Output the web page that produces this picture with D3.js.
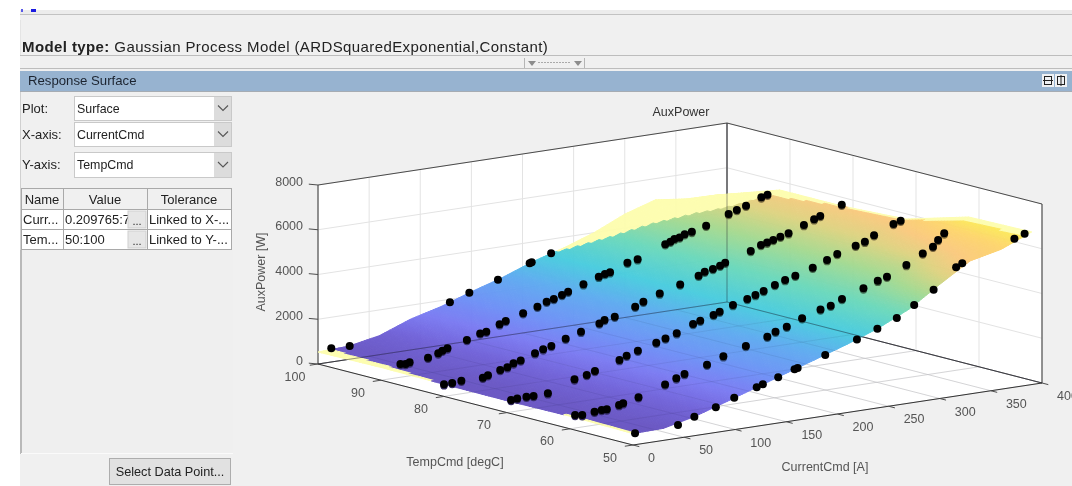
<!DOCTYPE html>
<html>
<head>
<meta charset="UTF-8">
<title>Response Surface: AuxPower</title>
<script src="https://cdn.jsdelivr.net/npm/d3@7"></script>
<style>
  body { margin: 0; background: #fff; }
  svg { display: block; filter: blur(0.35px); }
  text { font-family: "Liberation Sans", Arial, sans-serif; }
</style>
</head>
<body>
<script>
// axis ticks
var currentTicks = [0, 50, 100, 150, 200, 250, 300, 350, 400];
var tempTicks = [50, 60, 70, 80, 90, 100];
var powerTicks = [0, 2000, 4000, 6000, 8000];

// surface: one row per temperature, one value per current
var gridCurrent = [0, 30, 60, 90, 120, 150, 180, 210, 240, 270, 300, 330, 360, 390];
var gridTemp = [50, 60, 70, 80, 90, 100];
var gridPower = [
  [510, 540, 850, 1280, 1725, 2170, 2610, 3060, 3560, 4200, 5100, 5950, 6250, 6820],
  [560, 610, 870, 1290, 1750, 2200, 2600, 3060, 3570, 4030, 4510, 5060, 5900, 6765],
  [530, 575, 940, 1320, 1750, 2160, 2660, 3090, 3530, 4000, 4420, 4950, 5430, 5950],
  [540, 575, 870, 1320, 1770, 2220, 2620, 3120, 3530, 3970, 4420, 4870, 5380, 5800],
  [570, 610, 900, 1290, 1770, 2190, 2640, 3100, 3560, 4030, 4470, 4900, 5370, 5800],
  [535, 590, 850, 1370, 1730, 2190, 2610, 3120, 3520, 4000, 4620, 5050, 4880, 4850]
];

// measured points, [current, power], one list per temperature
var pointsT50 = [[2,510],[44,590],[60,850],[81,1123],[99,1430],[121,1740],[127,1833],[142,2042],[158,2293],[161,2325],[188,2720],[219,3200],[239,3543],[258,3890],[275,4350],[294,4900],[316,5755],[322,5890],[373,6637],[383,6790]];
var pointsT60 = [[5,583],[12,530],[24,600],[31,625],[36,620],[48,730],[52,780],[67,945],[93,1335],[104,1535],[112,1670],[134,1935],[150,2200],[172,2510],[193,2780],[201,2945],[212,3095],[227,3370],[245,3640],[255,3735],[266,3960],[287,4290],[301,4530],[310,4650],[329,5040],[345,5450],[355,5680],[360,5945],[366,6200]];
var pointsT70 = [[4,536],[10,566],[19,577],[26,563],[40,585],[66,1028],[78,1140],[86,1265],[110,1586],[117,1733],[128,1880],[146,2110],[155,2240],[166,2395],[182,2700],[189,2795],[202,2965],[208,3070],[221,3275],[235,3450],[243,3570],[251,3696],[262,3888],[272,4040],[282,4165],[299,4405],[313,4650],[323,4850],[341,5095],[350,5210],[359,5440],[378,5810],[385,5910]];
var pointsT80 = [[0,540],[8,545],[17,581],[38,572],[43,648],[55,800],[62,870],[68,1005],[75,1090],[89,1310],[97,1430],[105,1525],[119,1755],[134,1960],[152,2210],[157,2330],[167,2405],[187,2715],[195,2880],[211,3135],[231,3405],[249,3670],[255,3805],[263,3875],[270,3970],[275,4065],[300,4420],[310,4620],[316,4685],[322,4760],[329,4860],[337,4955],[352,5220],[362,5408],[368,5515],[389,5870]];
var pointsT90 = [[19,595],[24,558],[28,603],[46,688],[56,813],[60,903],[65,974],[84,1215],[97,1420],[103,1457],[116,1694],[122,1800],[139,2030],[153,2225],[162,2385],[169,2460],[177,2585],[183,2685],[198,2915],[213,3145],[219,3230],[224,3270],[241,3580],[251,3665],[278,4150],[283,4230],[287,4320],[292,4360],[297,4465],[304,4525],[318,4700],[340,5075],[348,5200],[357,5325],[372,5595],[378,5670]];
var pointsT100 = [[13,612],[31,585],[129,1864],[148,2163],[176,2547],[207,3070],[209,3097],[228,3370]];
var pointRows = [[50, pointsT50], [60, pointsT60], [70, pointsT70], [80, pointsT80], [90, pointsT90], [100, pointsT100]];

// widget text
var dropdownLabels = ["Plot:", "X-axis:", "Y-axis:"];
var dropdownValues = ["Surface", "CurrentCmd", "TempCmd"];
var tableHeader = ["Name", "Value", "Tolerance"];
var tableRows = [["Curr...", "0.209765:7", "Linked to X-..."], ["Tem...", "50:100", "Linked to Y-..."]];

var w = 1072, h = 486;
var svg = d3.select("body").append("svg").attr("width", w).attr("height", h);

function rect(x, y, width, height, fill, stroke) {
  return svg.append("rect").attr("x", x).attr("y", y).attr("width", width).attr("height", height)
    .attr("fill", fill).attr("stroke", stroke || "none");
}
function hline(y, x1, x2, col) {
  svg.append("line").attr("x1", x1).attr("x2", x2).attr("y1", y).attr("y2", y).attr("stroke", col);
}
function label(x, y, str, size, col) {
  return svg.append("text").attr("x", x).attr("y", y).text(str).attr("font-size", size).attr("fill", col || "#222");
}

// ---- window chrome ----
rect(20, 10, w - 20, h - 10, "#f0f0f0");
rect(20, 10, w - 20, 4, "#ececec");
hline(14.5, 20, w, "#c2c2c2");
hline(55.5, 20, w, "#bdbdbd");
hline(68.5, 20, w, "#bdbdbd");
rect(20, 20, 1, 35, "#e4e4e4");
rect(21, 9, 2, 3, "#5a5ae8");
rect(31, 9, 5, 3, "#1a1ae0");

var modelLine = label(22, 52, "", 15, "#222").attr("letter-spacing", 0.4);
modelLine.append("tspan").attr("font-weight", "bold").text("Model type:");
modelLine.append("tspan").text(" Gaussian Process Model (ARDSquaredExponential,Constant)");

// splitter grip
svg.append("line").attr("x1", 524.5).attr("x2", 524.5).attr("y1", 58).attr("y2", 68).attr("stroke", "#b5b5b5");
svg.append("line").attr("x1", 584.5).attr("x2", 584.5).attr("y1", 58).attr("y2", 68).attr("stroke", "#b5b5b5");
[[528, 536], [574, 582]].forEach(function(g) {
  svg.append("path").attr("d", "M" + g[0] + ",61H" + g[1] + "L" + (g[0] + g[1]) / 2 + ",66Z").attr("fill", "#8c8c8c");
});
svg.append("line").attr("x1", 538).attr("x2", 571).attr("y1", 62.5).attr("y2", 62.5)
  .attr("stroke", "#aaa").attr("stroke-dasharray", "2 1");

// header bar
rect(20, 71, w - 20, 21, "#97b3d0");
hline(91.5, 20, w, "#a6acb3");
label(28, 85, "Response Surface", 13.2, "#1c2430");
[1042, 1055].forEach(function(x, i) {
  rect(x, 74, 12, 13, "#eef0f3");
  svg.append("rect").attr("x", x + 2.5).attr("y", 76.5).attr("width", 7).attr("height", 8)
    .attr("fill", "none").attr("stroke", "#222");
  if (i == 0) hline(80.5, x + 1, x + 11, "#222");
  else svg.append("line").attr("x1", x + 6).attr("x2", x + 6).attr("y1", 75).attr("y2", 86).attr("stroke", "#222");
});

// ---- left controls ----
rect(20, 92, 1, 158, "#d0d0d0");
rect(20, 250, 2, 204, "#b9b9b9");
rect(22, 250, 211, 203, "#efefef");
rect(21, 453, 212, 1, "#fafafa");
[[96, 24], [122, 24], [152, 25]].forEach(function(b, i) {
  rect(74.5, b[0] + .5, 157, b[1], "#fff", "#c9c9c9");
  rect(214, b[0] + 1, 17, b[1] - 1, "#dcdcdc");
  var cy = b[0] + b[1] / 2 + .5;
  svg.append("path").attr("d", "M218," + (cy - 3) + "L223," + (cy + 2) + "L228," + (cy - 3))
    .attr("fill", "none").attr("stroke", "#555").attr("stroke-width", 1.1);
  label(77, cy + 4, dropdownValues[i], 12.4);
  label(22, cy + 4, dropdownLabels[i], 13);
});

var colEdges = [21, 63, 147, 231];
var rowEdges = [188, 209, 229, 249];
tableHeader.forEach(function(t, i) {
  rect(colEdges[i] + .5, rowEdges[0] + .5, colEdges[i + 1] - colEdges[i], 21, "#f0f0f0", "#a9a9a9");
  label((colEdges[i] + colEdges[i + 1]) / 2, 204, t, 13).attr("text-anchor", "middle");
});
tableRows.forEach(function(r, j) {
  r.forEach(function(t, i) {
    rect(colEdges[i] + .5, rowEdges[j + 1] + .5, colEdges[i + 1] - colEdges[i], 20, "#fff", "#a9a9a9");
    label(colEdges[i] + 2, rowEdges[j + 1] + 15, t, 13);
  });
  rect(128, rowEdges[j + 1] + 2, 18, 17, "#e6e6e6", "#cfcfcf");
  label(137, rowEdges[j + 1] + 16, "...", 11).attr("text-anchor", "middle");
});

rect(109.5, 458.5, 121, 26, "#e1e1e1", "#adadad");
label(170, 476, "Select Data Point...", 12.7).attr("text-anchor", "middle");

// ---- 3D axes: each data axis moves the point along its own screen direction ----
var curX = d3.scaleLinear().domain([0, 400]).range([0, 409]);
var curY = d3.scaleLinear().domain([0, 400]).range([0, -62]);
var tempX = d3.scaleLinear().domain([50, 100]).range([0, -315]);
var tempY = d3.scaleLinear().domain([50, 100]).range([0, -81]);
var powerY = d3.scaleLinear().domain([0, 8000]).range([0, -179]);
var frontX = 633, frontY = 445;

function project(c, t, z) {
  return [frontX + curX(c) + tempX(t), frontY + curY(c) + tempY(t) + powerY(z)];
}
var line3d = d3.line();

function seg(g, a, b, col, sw) {
  return g.append("path").attr("d", line3d([project.apply(null, a), project.apply(null, b)]))
    .attr("fill", "none").attr("stroke", col).attr("stroke-width", sw || 1);
}

var box = svg.append("g");
// white floor and back walls
[
  [[0, 100, 0], [400, 100, 0], [400, 50, 0], [0, 50, 0]],
  [[0, 100, 0], [400, 100, 0], [400, 100, 8000], [0, 100, 8000]],
  [[400, 100, 0], [400, 50, 0], [400, 50, 8000], [400, 100, 8000]]
].forEach(function(face) {
  box.append("path").attr("d", line3d(face.map(function(p) { return project.apply(null, p); })) + "Z").attr("fill", "#fff");
});

var gridCol = "#e3e3e3";
currentTicks.forEach(function(c) {
  seg(box, [c, 50, 0], [c, 100, 0], gridCol);
  seg(box, [c, 100, 0], [c, 100, 8000], gridCol);
});
tempTicks.forEach(function(t) {
  seg(box, [0, t, 0], [400, t, 0], gridCol);
  seg(box, [400, t, 0], [400, t, 8000], gridCol);
});
powerTicks.forEach(function(z) {
  seg(box, [0, 100, z], [400, 100, z], gridCol);
  seg(box, [400, 100, z], [400, 50, z], gridCol);
});

var boxCol = "#4a4a4a";
seg(box, [0, 100, 0], [400, 100, 0], boxCol);
seg(box, [400, 100, 0], [400, 50, 0], boxCol);
seg(box, [0, 100, 0], [0, 100, 8000], "#333");
seg(box, [400, 100, 0], [400, 100, 8000], "#333");
seg(box, [400, 50, 0], [400, 50, 8000], "#333");
seg(box, [0, 100, 8000], [400, 100, 8000], boxCol);
seg(box, [400, 100, 8000], [400, 50, 8000], boxCol);

// ---- surface, shaded through the table above ----
var colorOf = d3.scaleLinear()
  .domain([500, 1000, 1500, 2000, 2700, 3300, 4000, 4700, 5300, 5800, 6300, 6800])
  .range(["#6552c0", "#6e5fd8", "#7878f2", "#6c8ef6", "#5baaf0", "#46cbde", "#68d8bb", "#a3d98f", "#dcd37f", "#fac87c", "#fdd56a", "#fbf050"])
  .clamp(true);
var outsideCol = "#fdfdae";

var curIdx = d3.scaleLinear().domain(gridCurrent).range(d3.range(gridCurrent.length));
var tempIdx = d3.scaleLinear().domain(gridTemp).range(d3.range(gridTemp.length));
function powerAt(c, t) {
  var ci = Math.min(curIdx(c), gridCurrent.length - 1.001), ti = Math.min(tempIdx(t), gridTemp.length - 1.001);
  var i = Math.floor(ci), j = Math.floor(ti), u = ci - i, v = ti - j;
  return (1 - v) * ((1 - u) * gridPower[j][i] + u * gridPower[j][i + 1]) +
         v * ((1 - u) * gridPower[j + 1][i] + u * gridPower[j + 1][i + 1]);
}

// cells outside the hull of the measured points are the pale boundary region
var allPoints = [];
pointRows.forEach(function(r) { r[1].forEach(function(d) { allPoints.push([d[0], r[0]]); }); });
var hull = d3.polygonHull(allPoints);

var stepC = 2.5, stepT = 0.5;
var cells = [];
d3.range(100 - stepT, 50 - stepT, -stepT).forEach(function(t) {
  d3.range(390 - stepC, -stepC, -stepC).forEach(function(c) { cells.push([c, t]); });
});
svg.append("g").attr("opacity", 0.96).selectAll("path")
  .data(cells)
  .enter()
  .append("path")
  .attr("d", function(d) {
    var c = d[0], t = d[1];
    return line3d([[c, t], [c + stepC, t], [c + stepC, t + stepT], [c, t + stepT]].map(function(p) {
      return project(p[0], p[1], powerAt(p[0], p[1]));
    })) + "Z";
  })
  .each(function(d) {
    var mc = d[0] + stepC / 2, mt = d[1] + stepT / 2;
    var col = d3.polygonContains(hull, [mc, mt]) ? colorOf(powerAt(mc, mt)) : outsideCol;
    d3.select(this).attr("fill", col).attr("stroke", col).attr("stroke-width", 1);
  });

// box lines and floor grid still show faintly through the surface
var through = svg.append("g");
currentTicks.forEach(function(c) { seg(through, [c, 50, 0], [c, 100, 0], "#223").attr("stroke-opacity", .07); });
tempTicks.forEach(function(t) { seg(through, [0, t, 0], [400, t, 0], "#223").attr("stroke-opacity", .07); });
seg(through, [0, 100, 0], [400, 100, 0], "#223").attr("stroke-opacity", .4);
seg(through, [400, 100, 0], [400, 50, 0], "#223").attr("stroke-opacity", .4);
seg(through, [400, 100, 0], [400, 100, 8000], "#223").attr("stroke-opacity", .4);

// ---- measured points ----
// inner rows sit half under the see-through surface, so they get a tinted lower edge
var pointGroup = svg.append("g");
pointRows.forEach(function(r) {
  var inner = r[0] != 50 && r[0] != 100;
  if (inner) {
    pointGroup.selectAll(null)
      .data(r[1])
      .enter()
      .append("circle")
      .attr("cx", function(d) { return project(d[0], r[0], d[1])[0]; })
      .attr("cy", function(d) { return project(d[0], r[0], d[1])[1] + 1.6; })
      .attr("r", 3.7)
      .attr("fill", function(d) { return d3.color(colorOf(d[1])).darker(2); });
  }
  pointGroup.selectAll(null)
    .data(r[1])
    .enter()
    .append("circle")
    .attr("cx", function(d) { return project(d[0], r[0], d[1])[0]; })
    .attr("cy", function(d) { return project(d[0], r[0], d[1])[1]; })
    .attr("r", 4)
    .attr("fill", "#000");
});

// ---- front axes, ticks and labels ----
var front = svg.append("g");
seg(front, [0, 100, 0], [0, 50, 0], "#333");
seg(front, [0, 50, 0], [400, 50, 0], "#333");

var tickCol = "#4d4d4d", textCol = "#555";
function axisText(x, y, str, anchor, size) {
  return label(x, y, str, size || 12.5, textCol).attr("text-anchor", anchor);
}
powerTicks.forEach(function(z) {
  seg(front, [0, 100, z], [-9, 100, z + 100], tickCol);
  var p = project(0, 100, z);
  axisText(p[0] - 15, p[1] + 0.5, z, "end");
});
tempTicks.forEach(function(t) {
  seg(front, [0, t, 0], [-8, t, 0], tickCol);
  var p = project(0, t, 0);
  axisText(p[0] - 23, p[1] + 16.5, t, "middle");
});
currentTicks.forEach(function(c) {
  seg(front, [c, 50, 0], [c, 49, 0], tickCol);
  var p = project(c, 50, 0);
  axisText(p[0] + 15, p[1] + 17, c, "start");
});

axisText(681, 116, "AuxPower", "middle", 12.5).attr("fill", "#333");
axisText(455, 466, "TempCmd [degC]", "middle", 12.5);
axisText(825, 471, "CurrentCmd [A]", "middle", 12.5);
axisText(0, 0, "AuxPower [W]", "middle", 12.5).attr("x", null).attr("y", null)
  .attr("transform", "translate(265,272) rotate(-90)");
</script>
</body>
</html>
